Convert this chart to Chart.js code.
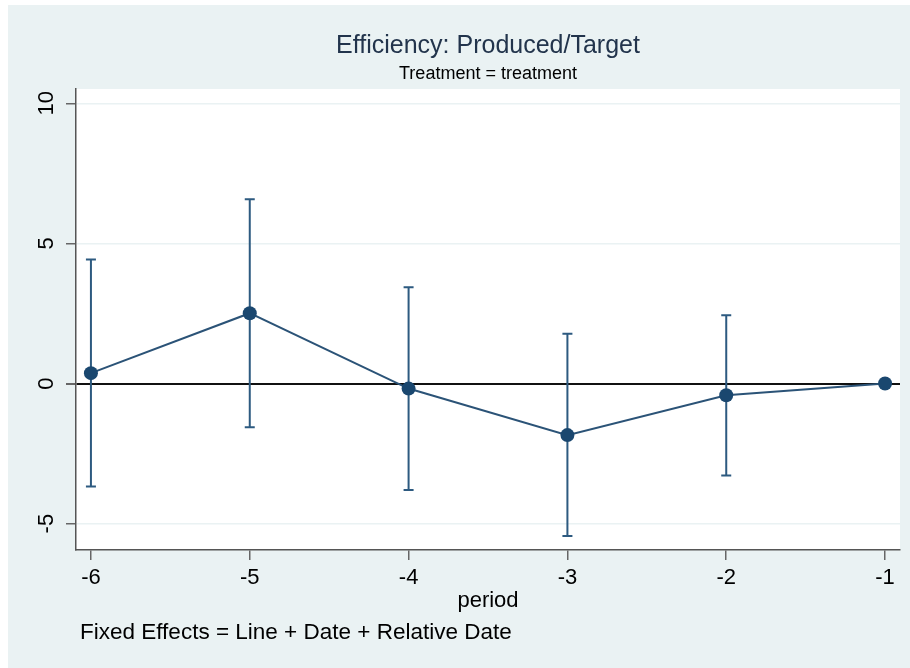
<!DOCTYPE html>
<html>
<head>
  <title>Efficiency: Produced/Target</title>
  <script src="https://cdn.jsdelivr.net/npm/chart.js"></script>
  <style>
    body { margin: 0; background: #fff; }
    canvas { display: block; }
  </style>
</head>
<body>
  <canvas id="chart" width="910" height="668"></canvas>
  <script>
    // values
    const periods = [-6, -5, -4, -3, -2, -1];
    const coef = [0.37, 2.51, -0.18, -1.84, -0.42, 0];
    const ciLow = [-3.67, -1.56, -3.8, -5.44, -3.28, null];
    const ciHigh = [4.43, 6.58, 3.44, 1.78, 2.44, null];
    const xTicks = [-6, -5, -4, -3, -2, -1];
    const yTicks = [-5, 0, 5, 10];

    const navy = '#1a476f';
    const font = '"Liberation Sans", Arial, sans-serif';

    // background, titles, notes and the rotated y labels
    const stataLook = {
      id: 'stataLook',
      beforeDraw(chart) {
        const ctx = chart.ctx, a = chart.chartArea;
        ctx.save();
        ctx.fillStyle = '#ffffff';
        ctx.fillRect(0, 0, chart.width, chart.height);
        ctx.fillStyle = '#eaf2f3';
        ctx.fillRect(8, 5, chart.width - 8, chart.height - 5);
        ctx.fillStyle = '#ffffff';
        ctx.fillRect(a.left, a.top, a.right - a.left, a.bottom - a.top);
        ctx.restore();
      },
      beforeDatasetsDraw(chart) {
        // error bars
        const ctx = chart.ctx;
        const xs = chart.scales.x, ys = chart.scales.y;
        ctx.save();
        ctx.strokeStyle = '#2d5a80';
        ctx.lineWidth = 2;
        for (let i = 0; i < periods.length; i++) {
          if (ciLow[i] === null) continue;
          const x = xs.getPixelForValue(periods[i]);
          const y1 = ys.getPixelForValue(ciLow[i]);
          const y2 = ys.getPixelForValue(ciHigh[i]);
          ctx.beginPath();
          ctx.moveTo(x, y1); ctx.lineTo(x, y2);
          ctx.moveTo(x - 5, y1); ctx.lineTo(x + 5, y1);
          ctx.moveTo(x - 5, y2); ctx.lineTo(x + 5, y2);
          ctx.stroke();
        }
        ctx.restore();
      },
      afterDraw(chart) {
        const ctx = chart.ctx, a = chart.chartArea;
        const mid = (a.left + a.right) / 2;
        ctx.save();
        ctx.textAlign = 'center';
        ctx.textBaseline = 'middle';
        ctx.fillStyle = '#22344c';
        ctx.font = '25px ' + font;
        ctx.fillText('Efficiency: Produced/Target', mid, 46);
        ctx.fillStyle = '#000';
        ctx.font = '18px ' + font;
        ctx.fillText('Treatment = treatment', mid, 74);
        ctx.font = '22px ' + font;
        ctx.fillText('period', mid, 601);
        ctx.font = '22.5px ' + font;
        ctx.textAlign = 'left';
        ctx.fillText('Fixed Effects = Line + Date + Relative Date', 80, 633);
        // y tick labels, turned like Stata does
        const ys = chart.scales.y;
        ctx.font = '22px ' + font;
        ctx.textAlign = 'center';
        yTicks.forEach(v => {
          ctx.save();
          ctx.translate(47, ys.getPixelForValue(v));
          ctx.rotate(-Math.PI / 2);
          ctx.fillText(String(v), 0, 0);
          ctx.restore();
        });
        ctx.restore();
      }
    };

    new Chart(document.getElementById('chart'), {
      type: 'line',
      data: {
        datasets: [{
          data: periods.map((p, i) => ({ x: p, y: coef[i] })),
          borderColor: '#2b5377',
          borderWidth: 2,
          pointRadius: 7,
          pointBackgroundColor: navy,
          pointBorderColor: navy,
          pointBorderWidth: 0,
          tension: 0
        }]
      },
      options: {
        responsive: false,
        animation: false,
        devicePixelRatio: 1,
        layout: { padding: { top: 89, left: 0, right: 10, bottom: 0 } },
        plugins: { legend: { display: false }, tooltip: { enabled: false } },
        scales: {
          x: {
            type: 'linear',
            min: -6.094,
            max: -0.906,
            afterBuildTicks: s => { s.ticks = xTicks.map(v => ({ value: v })); },
            afterFit: s => { s.height = 118; },
            border: { color: '#555', width: 1.5 },
            grid: { drawOnChartArea: false, tickLength: 10, tickColor: '#666', lineWidth: 1.5 },
            ticks: { color: '#000', padding: 5, font: { family: font, size: 22 } }
          },
          y: {
            type: 'linear',
            min: -5.94,
            max: 10.51,
            afterBuildTicks: s => { s.ticks = yTicks.map(v => ({ value: v })); },
            afterFit: s => { s.width = 76; },
            border: { color: '#555', width: 1.5 },
            grid: {
              color: c => c.tick && c.tick.value === 0 ? '#111' : '#eaf2f3',
              lineWidth: c => c.tick && c.tick.value === 0 ? 2 : 1.5,
              tickLength: 10,
              tickColor: '#666'
            },
            ticks: { display: false }
          }
        }
      },
      plugins: [stataLook]
    });
  </script>
</body>
</html>
